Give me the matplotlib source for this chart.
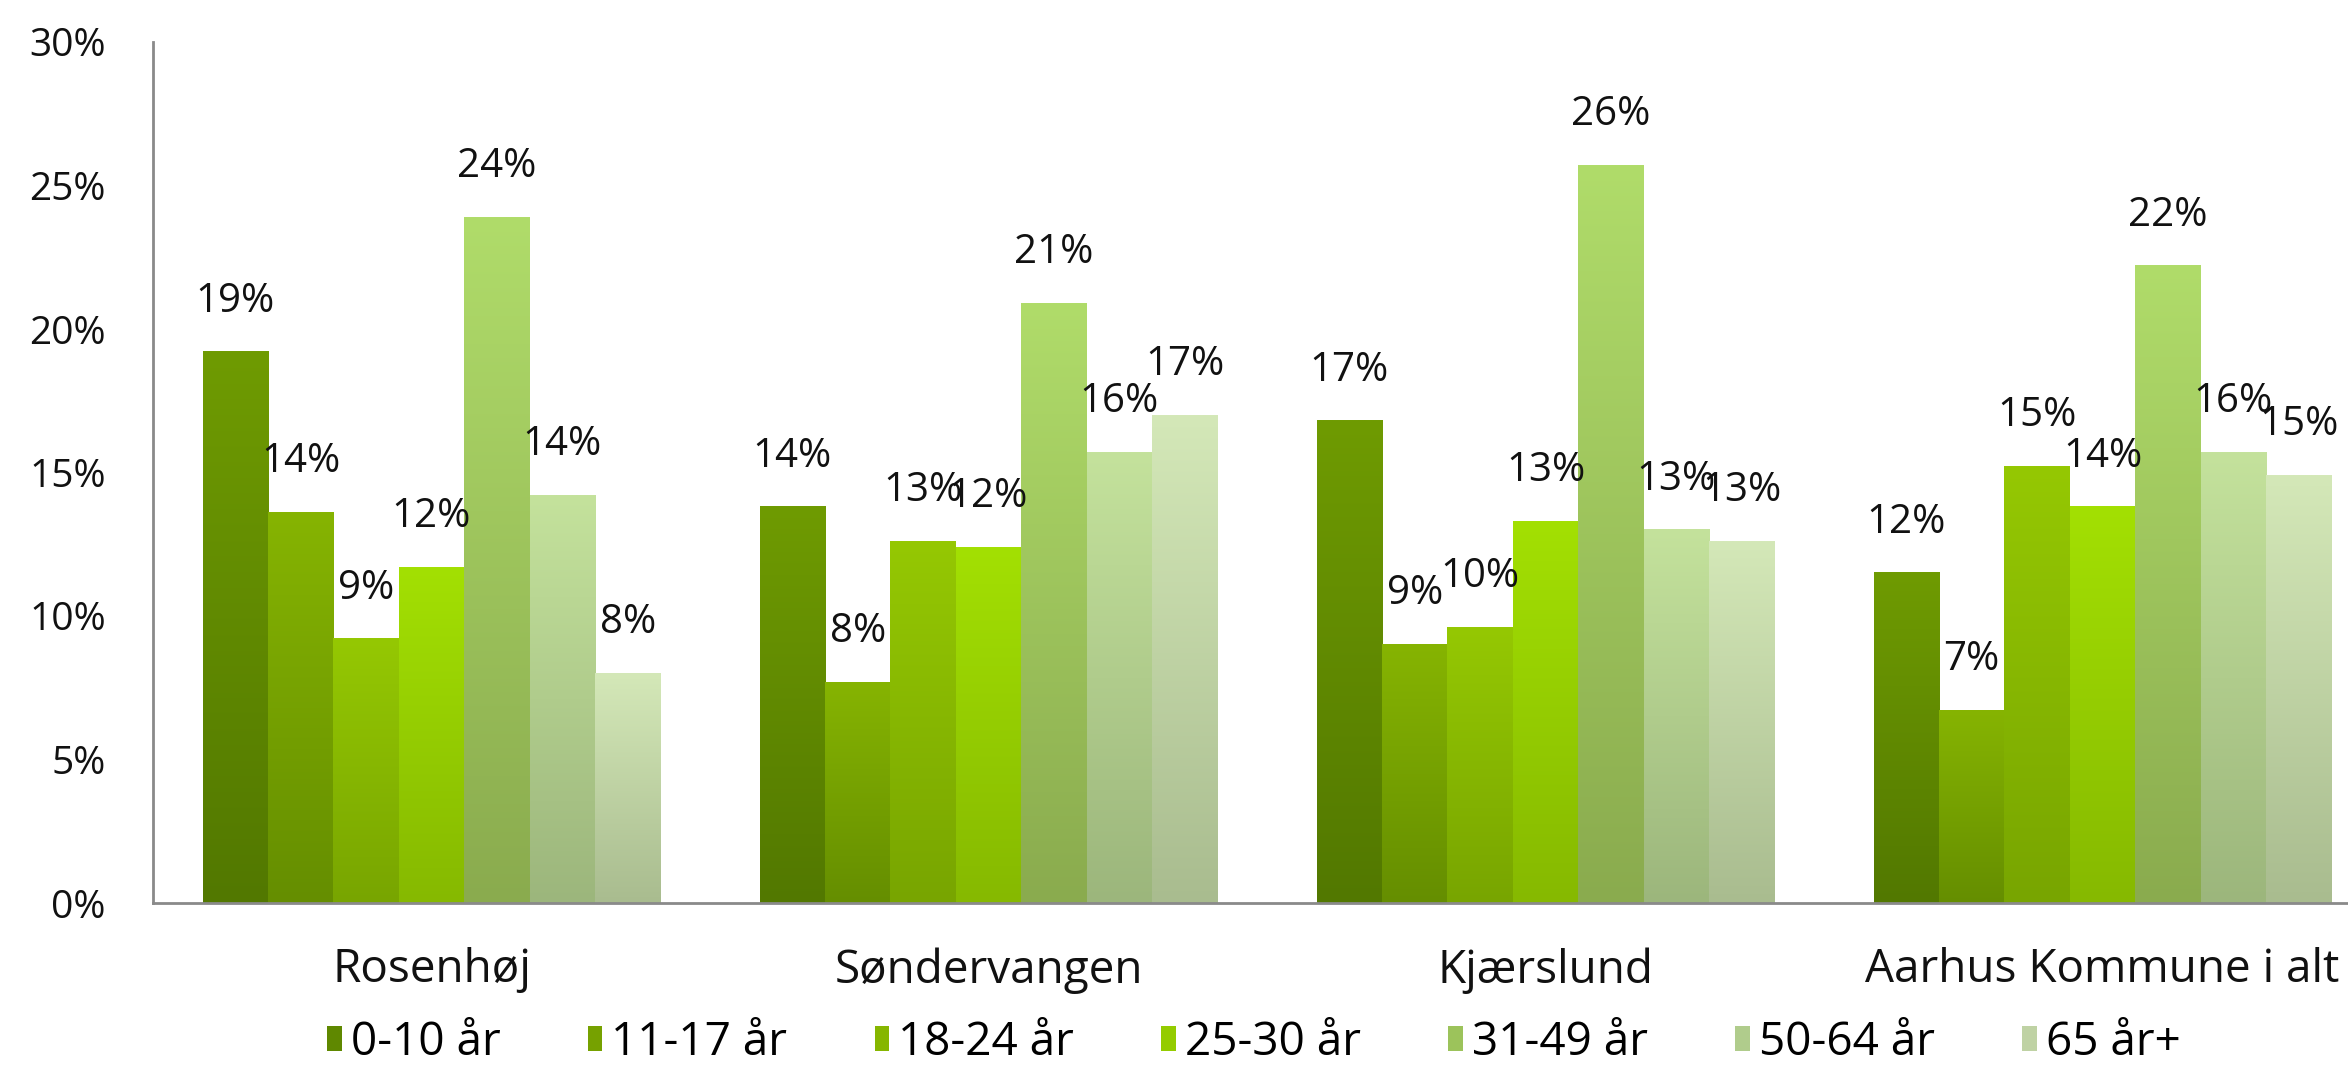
import numpy as np
import matplotlib
matplotlib.use("Agg")
import matplotlib.pyplot as plt
from matplotlib.colors import LinearSegmentedColormap
from matplotlib.patches import Patch

plt.rcParams['font.family'] = ['Open Sans', 'DejaVu Sans']

# data (percent)
areas = ['Rosenhøj', 'Søndervangen', 'Kjærslund', 'Aarhus Kommune i alt']
age_groups = ['0-10 år', '11-17 år', '18-24 år', '25-30 år', '31-49 år', '50-64 år', '65 år+']
share_0_10 = [19.2, 13.8, 16.8, 11.5]
share_11_17 = [13.6, 7.7, 9.0, 6.7]
share_18_24 = [9.2, 12.6, 9.6, 15.2]
share_25_30 = [11.7, 12.4, 13.3, 13.8]
share_31_49 = [23.9, 20.9, 25.7, 22.2]
share_50_64 = [14.2, 15.7, 13.0, 15.7]
share_65 = [8.0, 17.0, 12.6, 14.9]
series = [share_0_10, share_11_17, share_18_24, share_25_30,
          share_31_49, share_50_64, share_65]

# gradient colours, top -> bottom
top_colors = ['#6f9b02', '#86b402', '#95c803', '#a3e003', '#b0dc6a', '#c4e29c', '#d4e8b8']
bottom_colors = ['#527800', '#658e00', '#78a500', '#86b900', '#8aab4e', '#9cb67c', '#a9bc8f']
mid_colors = ['#5f8800', '#76a100', '#86b600', '#94cc00', '#9cc35b', '#b0cc8c', '#bfd2a4']

W, H = 2348, 1091
fig = plt.figure(figsize=(W / 100, H / 100), dpi=100)
ax = fig.add_axes([153 / W, (H - 903) / H, 2228 / W, (903 - 42) / H])

x = np.arange(len(areas))
n = len(series)
bw = 0.822 / n

for i, vals in enumerate(series):
    pos = x - 0.411 + bw * (i + 0.5)
    bars = ax.bar(pos, vals, width=bw, color='none', edgecolor='none', zorder=2)
    cmap = LinearSegmentedColormap.from_list('g%d' % i, [bottom_colors[i], top_colors[i]])
    grad = np.linspace(0, 1, 256).reshape(-1, 1)
    for b, v in zip(bars, vals):
        x0, w, h = b.get_x(), b.get_width(), b.get_height()
        ax.imshow(grad, cmap=cmap, origin='lower', aspect='auto',
                  extent=(x0, x0 + w, 0, h), zorder=2, interpolation='bilinear')
        ax.annotate('%d%%' % round(v), (x0 + w / 2, h), xytext=(0, 29),
                    textcoords='offset points', ha='center', va='baseline',
                    fontsize=29, color='#111111', zorder=3)

ax.set_xlim(-0.5, len(areas) - 0.5)
ax.set_ylim(0, 30)
ax.set_yticks(range(0, 31, 5))
ax.set_yticklabels(['%d%%' % t for t in range(0, 31, 5)])
ax.set_xticks(x)
ax.set_xticklabels(areas)
ax.tick_params(axis='y', length=0, pad=34, labelsize=28, labelcolor='#111111')
ax.tick_params(axis='x', length=0, pad=32, labelsize=33, labelcolor='#111111')
for s in ['top', 'right']:
    ax.spines[s].set_visible(False)
for s in ['left', 'bottom']:
    ax.spines[s].set_color('#8a8a8a')
    ax.spines[s].set_linewidth(2)

handles = [Patch(facecolor=c, edgecolor='none') for c in mid_colors]
fig.legend(handles, age_groups, loc='center', bbox_to_anchor=(0.534, 1 - 1043 / H),
           ncol=n, frameon=False, fontsize=33, handlelength=0.32, handleheight=0.45,
           handletextpad=0.2, columnspacing=1.9)

fig.savefig('out.png', dpi=100)
